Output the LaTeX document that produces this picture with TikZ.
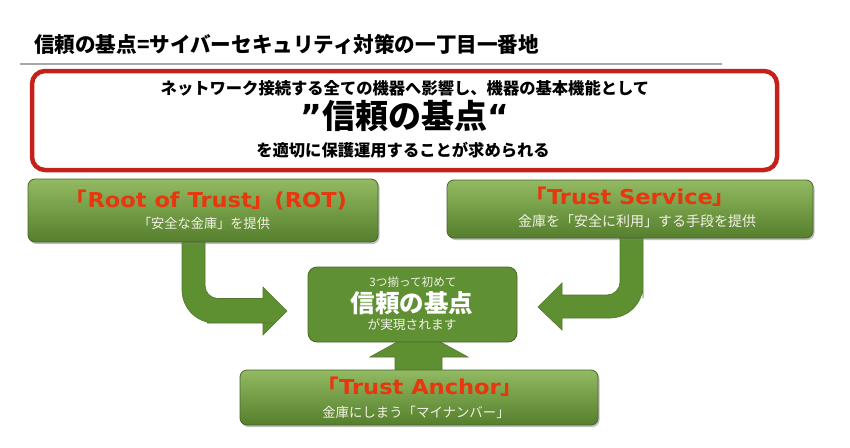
\documentclass[tikz,border=0pt]{standalone}
\usepackage{fontspec}
\setmainfont{DejaVu Sans}
\newfontfamily\jp{Noto Sans CJK JP}
\newfontfamily\lat{DejaVu Sans}
\usetikzlibrary{shadows,backgrounds,calc}
\definecolor{gtop}{HTML}{93BA62}
\definecolor{gbot}{HTML}{557F2C}
\definecolor{gborder}{HTML}{46662A}
\definecolor{arrowc}{HTML}{5E8F31}
\definecolor{arrowb}{HTML}{50782A}
\definecolor{midc}{HTML}{5F9034}
\definecolor{redc}{HTML}{C3211A}
\definecolor{ttlred}{HTML}{E8360F}
\definecolor{subw}{HTML}{F2F2E6}
\definecolor{rulec}{HTML}{A8A8A8}
\tikzset{
  gbox/.style={rounded corners=7pt, draw=gborder, line width=0.8pt, top color=gtop, bottom color=gbot,
    drop shadow={shadow xshift=1.5pt, shadow yshift=-2pt, opacity=0.5}, inner sep=0pt},
  cbox/.style={rounded corners=9pt, draw=gborder, line width=0.8pt, fill=midc, inner sep=0pt},
  redbox/.style={rounded corners=13pt, draw=redc, line width=4.5pt, fill=white,
    drop shadow={shadow xshift=1pt, shadow yshift=-1.5pt, opacity=0.25}, inner sep=0pt},
  blockarrow/.style={fill=arrowc, draw=arrowb, line width=0.6pt},
  jtext/.style={font=\jp\bfseries\fontsize{16.3}{16.3}\selectfont, text=black, inner sep=0pt},
  gttl/.style={font=\lat\bfseries\fontsize{20.5}{20.5}\selectfont, text=ttlred, inner sep=0pt},
  gsub/.style={font=\jp\fontsize{13.2}{13.2}\selectfont, text=subw, inner sep=0pt},
}
\newcommand{\wide}[1]{\scalebox{1.1}[1]{#1}}
\begin{document}
\begin{tikzpicture}[x=1pt,y=-1pt]
\useasboundingbox (0,0) rectangle (850,447);
% title
\node[anchor=west, inner sep=0pt, font=\jp\bfseries\fontsize{21}{21}\selectfont] (title) at (34,44)
  {\scalebox{0.98}[1]{信頼の基点=サイバーセキュリティ対策の一丁目一番地}};
\coordinate (ruleL) at (20,64);
\coordinate (ruleR) at (722,64);
\draw[rulec, line width=1.5pt] (ruleL) -- (ruleR);
% red box
\node[redbox, minimum width=745pt, minimum height=99pt] (trust) at (404.5,120.5) {};
\node[jtext] (t1) at (405,88) {ネットワーク接続する全ての機器へ影響し、機器の基本機能として};
\node[jtext, font=\jp\bfseries\fontsize{33}{33}\selectfont] (t2) at (405,116) {{\lat”}信頼の基点{\lat“}};
\node[jtext] (t3) at (403,150) {を適切に保護運用することが求められる};
% green boxes
\node[gbox, minimum width=350pt, minimum height=63pt] (rot) at (203,210.5) {};
\node[gttl] (rott) at (206,200) {\wide{{\jp「}Root of Trust{\jp」}(ROT)}};
\node[gsub] (rots) at (204,223) {「安全な金庫」を提供};
\node[gbox, minimum width=366pt, minimum height=58pt] (svc) at (630,209) {};
\node[gttl] (svct) at (630,197) {\wide{{\jp「}Trust Service{\jp」}}};
\node[gsub, font=\jp\fontsize{14}{14}\selectfont] (svcs) at (637,221) {金庫を「安全に利用」する手段を提供};
\node[cbox, minimum width=209pt, minimum height=75pt] (mid) at (412.5,304.5) {};
\node[gsub, font=\jp\fontsize{11.6}{11.6}\selectfont] (mid1) at (413,282) {3つ揃って初めて};
\node[gsub, text=white, font=\jp\bfseries\fontsize{24.5}{24.5}\selectfont] (mid2) at (412,303) {信頼の基点};
\node[gsub, font=\jp\fontsize{12.7}{12.7}\selectfont] (mid3) at (412,325) {が実現されます};
\node[gbox, minimum width=358pt, minimum height=55pt] (anc) at (419,397.5) {};
\node[gttl] (anct) at (420,387) {\wide{{\jp「}Trust Anchor{\jp」}}};
\node[gsub, font=\jp\fontsize{13.4}{13.4}\selectfont] (ancs) at (416,412) {金庫にしまう「マイナンバー」};
% block arrows
\begin{pgfonlayer}{background}
\fill[white] (0,0) rectangle (850,447);
% rot -> mid
\path[blockarrow] (182,238) -- (182,260) [rounded corners=33pt] -- (182,323) -- (240,323) [sharp corners]
  -- (263,323) -- (263,335) -- (287,311) -- (263,287) -- (263,298.5) -- (235,298.5)
  [rounded corners=13pt] -- (205,298.5) -- (205,270) [sharp corners] -- (205,238) -- cycle;
% svc -> mid
\path[blockarrow] (620,234) -- (620,265) [rounded corners=13pt] -- (620,295) -- (595,295) [sharp corners]
  -- (562,295) -- (562,283) -- (538,307) -- (562,330) -- (562,318) -- (595,318)
  [rounded corners=33pt] -- (643,318) -- (643,265) [sharp corners] -- (643,234) -- cycle;
% anc -> mid
\path[blockarrow] (395,374) -- (395,357) -- (370,357) -- (418.5,330) -- (468,357) -- (442,357) -- (442,374) -- cycle;
\end{pgfonlayer}
\end{tikzpicture}
\end{document}
